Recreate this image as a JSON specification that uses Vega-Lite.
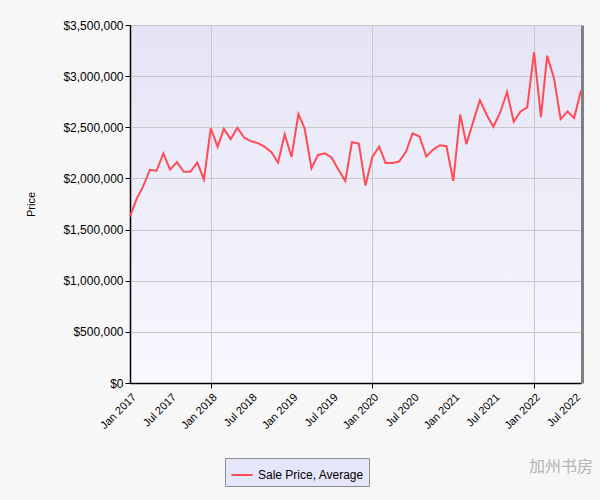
{
  "$schema": "https://vega.github.io/schema/vega-lite/v6.json",
  "width": 451,
  "height": 358,
  "autosize": "none",
  "padding": {"left": 130, "top": 25, "right": 19, "bottom": 117},
  "background": "#f7f7f7",
  "config": {
    "font": "Liberation Sans",
    "view": {
      "stroke": null,
      "fill": {"gradient": "linear", "x1": 0, "y1": 0, "x2": 0, "y2": 1, "stops": [{"offset": 0, "color": "#e4e4f6"}, {"offset": 1, "color": "#f8f8ff"}]}
    },
    "axis": {
      "labelFont": "Liberation Sans",
      "labelFontSize": 12,
      "labelColor": "#000000",
      "titleFont": "Liberation Sans",
      "titleFontSize": 11,
      "titleFontWeight": "normal",
      "titleColor": "#000000",
      "gridColor": "#c8c8c8",
      "gridWidth": 1,
      "domainColor": "#000000",
      "domainWidth": 1.5,
      "tickColor": "#000000",
      "tickSize": 5
    }
  },
  "title": {"text": "加州书房", "orient": "bottom", "anchor": "end", "font": "Noto Sans CJK SC", "fontSize": 16, "fontWeight": "normal", "color": "#b4b4b4", "offset": 0, "dx": 8, "dy": -28},
  "data": {
    "values": [
      {"month": "2017-01-01", "price": 1630000},
      {"month": "2017-02-01", "price": 1805000},
      {"month": "2017-03-01", "price": 1920000},
      {"month": "2017-04-01", "price": 2085000},
      {"month": "2017-05-01", "price": 2075000},
      {"month": "2017-06-01", "price": 2245000},
      {"month": "2017-07-01", "price": 2085000},
      {"month": "2017-08-01", "price": 2160000},
      {"month": "2017-09-01", "price": 2065000},
      {"month": "2017-10-01", "price": 2065000},
      {"month": "2017-11-01", "price": 2155000},
      {"month": "2017-12-01", "price": 1990000},
      {"month": "2018-01-01", "price": 2490000},
      {"month": "2018-02-01", "price": 2310000},
      {"month": "2018-03-01", "price": 2485000},
      {"month": "2018-04-01", "price": 2385000},
      {"month": "2018-05-01", "price": 2495000},
      {"month": "2018-06-01", "price": 2400000},
      {"month": "2018-07-01", "price": 2365000},
      {"month": "2018-08-01", "price": 2345000},
      {"month": "2018-09-01", "price": 2310000},
      {"month": "2018-10-01", "price": 2260000},
      {"month": "2018-11-01", "price": 2155000},
      {"month": "2018-12-01", "price": 2430000},
      {"month": "2019-01-01", "price": 2210000},
      {"month": "2019-02-01", "price": 2630000},
      {"month": "2019-03-01", "price": 2490000},
      {"month": "2019-04-01", "price": 2100000},
      {"month": "2019-05-01", "price": 2230000},
      {"month": "2019-06-01", "price": 2245000},
      {"month": "2019-07-01", "price": 2205000},
      {"month": "2019-08-01", "price": 2085000},
      {"month": "2019-09-01", "price": 1975000},
      {"month": "2019-10-01", "price": 2355000},
      {"month": "2019-11-01", "price": 2340000},
      {"month": "2019-12-01", "price": 1930000},
      {"month": "2020-01-01", "price": 2210000},
      {"month": "2020-02-01", "price": 2310000},
      {"month": "2020-03-01", "price": 2150000},
      {"month": "2020-04-01", "price": 2150000},
      {"month": "2020-05-01", "price": 2165000},
      {"month": "2020-06-01", "price": 2260000},
      {"month": "2020-07-01", "price": 2440000},
      {"month": "2020-08-01", "price": 2410000},
      {"month": "2020-09-01", "price": 2215000},
      {"month": "2020-10-01", "price": 2280000},
      {"month": "2020-11-01", "price": 2325000},
      {"month": "2020-12-01", "price": 2315000},
      {"month": "2021-01-01", "price": 1975000},
      {"month": "2021-02-01", "price": 2625000},
      {"month": "2021-03-01", "price": 2335000},
      {"month": "2021-04-01", "price": 2555000},
      {"month": "2021-05-01", "price": 2765000},
      {"month": "2021-06-01", "price": 2620000},
      {"month": "2021-07-01", "price": 2505000},
      {"month": "2021-08-01", "price": 2645000},
      {"month": "2021-09-01", "price": 2845000},
      {"month": "2021-10-01", "price": 2555000},
      {"month": "2021-11-01", "price": 2655000},
      {"month": "2021-12-01", "price": 2695000},
      {"month": "2022-01-01", "price": 3235000},
      {"month": "2022-02-01", "price": 2600000},
      {"month": "2022-03-01", "price": 3200000},
      {"month": "2022-04-01", "price": 2980000},
      {"month": "2022-05-01", "price": 2580000},
      {"month": "2022-06-01", "price": 2655000},
      {"month": "2022-07-01", "price": 2590000},
      {"month": "2022-08-01", "price": 2860000}
    ]
  },
  "layer": [
    {
      "mark": {"type": "line", "strokeWidth": 2},
      "encoding": {
        "x": {
          "field": "month",
          "type": "temporal",
          "scale": {"type": "utc", "nice": false, "domain": [{"year": 2017, "month": 1, "date": 1, "utc": true}, {"year": 2022, "month": 8, "date": 1, "utc": true}]},
          "axis": {
            "title": null,
            "format": "%b %Y",
            "labelAngle": -45,
            "labelFontSize": 11,
            "labelPadding": 3,
            "values": [
              {"year": 2017, "month": 1, "date": 1, "utc": true},
              {"year": 2017, "month": 7, "date": 1, "utc": true},
              {"year": 2018, "month": 1, "date": 1, "utc": true},
              {"year": 2018, "month": 7, "date": 1, "utc": true},
              {"year": 2019, "month": 1, "date": 1, "utc": true},
              {"year": 2019, "month": 7, "date": 1, "utc": true},
              {"year": 2020, "month": 1, "date": 1, "utc": true},
              {"year": 2020, "month": 7, "date": 1, "utc": true},
              {"year": 2021, "month": 1, "date": 1, "utc": true},
              {"year": 2021, "month": 7, "date": 1, "utc": true},
              {"year": 2022, "month": 1, "date": 1, "utc": true},
              {"year": 2022, "month": 7, "date": 1, "utc": true}
            ],
            "gridOpacity": {"condition": {"test": "utcmonth(datum.value) === 0 && utcyear(datum.value) % 2 === 0", "value": 1}, "value": 0},
            "tickOpacity": {"condition": {"test": "utcmonth(datum.value) === 0 && utcyear(datum.value) % 2 === 0", "value": 1}, "value": 0}
          }
        },
        "y": {
          "field": "price",
          "type": "quantitative",
          "scale": {"domain": [0, 3500000], "nice": false},
          "axis": {"title": "Price", "format": "$,.0f", "values": [0, 500000, 1000000, 1500000, 2000000, 2500000, 3000000, 3500000], "labelPadding": 2, "titlePadding": 26}
        },
        "color": {
          "datum": "Sale Price, Average",
          "type": "nominal",
          "scale": {"range": ["#ff4b55"]},
          "legend": {
            "title": null,
            "orient": "none",
            "legendX": 95,
            "legendY": 433,
            "fillColor": "#e6e6fa",
            "strokeColor": "#8c8c8c",
            "padding": 5,
            "symbolType": "stroke",
            "symbolStrokeWidth": 2,
            "symbolSize": 450,
            "labelFont": "Liberation Sans",
            "labelFontSize": 12,
            "labelColor": "#000000"
          }
        }
      }
    },
    {
      "mark": {"type": "line", "opacity": 0},
      "encoding": {
        "x": {"field": "month", "type": "temporal"},
        "y": {
          "field": "price",
          "type": "quantitative",
          "axis": {"orient": "right", "labels": false, "ticks": false, "grid": false, "title": null, "domainColor": "#808080", "domainWidth": 3, "offset": 1}
        }
      }
    }
  ],
  "resolve": {"axis": {"y": "independent"}}
}
